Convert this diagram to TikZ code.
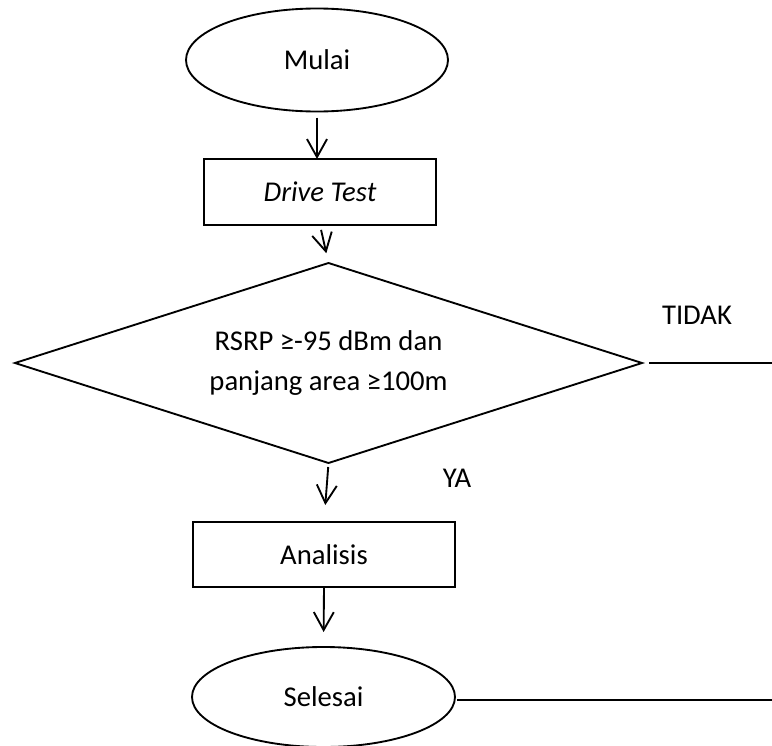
\documentclass[tikz,border=0pt]{standalone}
\usepackage{fontspec}
\setmainfont{Carlito}
\usetikzlibrary{arrows.meta,positioning,shapes.geometric}
\tikzset{
  elips/.style={ellipse,draw,line width=1.4pt,inner sep=0pt,outer sep=0pt},
  kotak/.style={rectangle,draw,line width=1.4pt,inner sep=0pt,outer sep=0pt},
  belah/.style={diamond,draw,line width=1.4pt,inner sep=0pt,outer sep=0pt,aspect=3.135,align=center},
  panah/.style={line width=1.4pt,-{Straight Barb[length=13.5pt,width=15pt,line width=1.4pt]}},
  garis/.style={line width=1.4pt},
}

\begin{document}
\begin{tikzpicture}[x=0.75pt,y=-0.75pt,font=\fontsize{21.5}{30}\selectfont]
  \useasboundingbox (0,0) rectangle (772,746);
  \node[elips,minimum width=196.5pt,minimum height=77.25pt] (mulai) at (317,60) {Mulai};
  \node[kotak,minimum width=174pt,minimum height=49.5pt] (drive) at (320,192) {\itshape Drive Test};
  \node[belah,minimum width=470.25pt,minimum height=150pt] (cek) at (328.5,363)
    {RSRP ≥-95 dBm dan\\ panjang area ≥100m};
  \node[kotak,minimum width=196.5pt,minimum height=48.75pt] (analisis) at (324,554.5) {Analisis};
  \node[elips,minimum width=197.25pt,minimum height=75pt] (selesai) at (323.5,697) {Selesai};
  \node (ya) at (457,478) {YA};
  \node (tidak) at (697,315) {TIDAK};
  \coordinate (ujungA) at (772,363);
  \coordinate (ujungB) at (772,700);
  % alur utama
  \draw[panah,shorten <=4.5pt] (mulai.south) -- (mulai.south |- drive.north);
  \draw[panah,shorten <=3.75pt,shorten >=7.5pt] (drive.south) -- (cek.north);
  \draw[panah,shorten <=3pt,shorten >=12.75pt] (cek.south) -- (analisis.north);
  \draw[panah,shorten >=11.25pt] (analisis.south) -- (selesai.north);
  % garis keluar kanan
  \draw[garis,shorten <=5.25pt] (cek.east) -- (ujungA);
  \draw[garis,shorten <=1.5pt] (selesai.east |- ujungB) -- (ujungB);
\end{tikzpicture}
\end{document}
